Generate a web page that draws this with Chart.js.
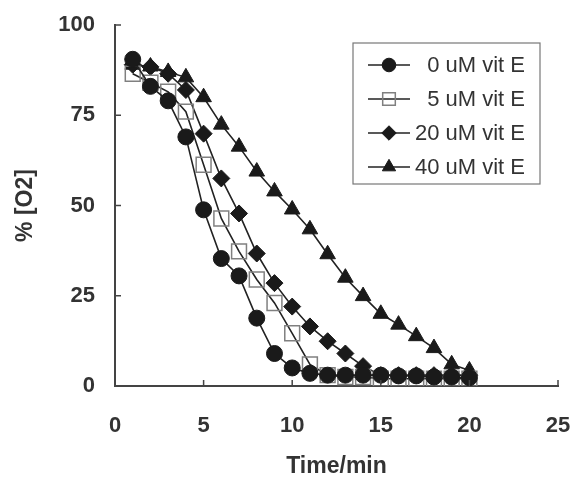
<!DOCTYPE html>
<html>
<head>
<meta charset="utf-8">
<script src="https://cdn.jsdelivr.net/npm/chart.js@4/dist/chart.umd.min.js"></script>
<style>
  html, body { margin: 0; padding: 0; background: #fff; }
  #wrap { width: 574px; height: 482px; position: relative; }
</style>
</head>
<body>
<div id="wrap"><canvas id="c" width="574" height="482"></canvas></div>
<script>
// ---- Data ----
const timeMin = [1,2,3,4,5,6,7,8,9,10,11,12,13,14,15,16,17,18,19,20];
const seriesLabels = ['0 uM vit E', '5 uM vit E', '20 uM vit E', '40 uM vit E'];
const o2_vitE0  = [90.5, 83, 79, 69, 48.8, 35.3, 30.5, 18.8, 9, 5, 3.5, 3, 3, 3, 3, 2.8, 2.8, 2.5, 2.5, 2.3];
const o2_vitE5  = [86.5, 84, 81.5, 76, 61.3, 46.4, 37.3, 29.5, 23, 14.6, 6, 3, 2.5, 2.5, 2, 2, 2, 2, 2, 2];
const o2_vitE20 = [89, 88.4, 86.5, 82, 69.9, 57.5, 47.8, 36.7, 28.5, 22, 16.5, 12.4, 9, 5.5, 3, 3, 3, 3, 3, 3];
const o2_vitE40 = [89, 88.5, 87, 85.5, 80, 72.4, 66.3, 59.4, 53.9, 48.9, 43.4, 36.5, 30, 24.9, 20, 17, 13.8, 10.5, 6, 4.3];
const xTicks = [0, 5, 10, 15, 20, 25];
const yTicks = [0, 25, 50, 75, 100];

const TEXT = '#333333';
const AXIS = '#444444';
const FONT = "'Liberation Sans', Arial, sans-serif";

function toXY(vals) { return vals.map((v, i) => ({ x: timeMin[i], y: v })); }

const styles = [
  { pointStyle: 'circle',   radius: 8,   bg: '#1a1a1a', border: '#1a1a1a', bw: 1 },
  { pointStyle: 'rect',     radius: 10.5, bg: 'rgba(0,0,0,0)', border: '#808080', bw: 1.5 },
  { pointStyle: 'rectRot',  radius: 8.5, bg: '#1a1a1a', border: '#1a1a1a', bw: 1 },
  { pointStyle: 'triangle', radius: 9,   bg: '#1a1a1a', border: '#1a1a1a', bw: 1 }
];
const allSeries = [o2_vitE0, o2_vitE5, o2_vitE20, o2_vitE40];

const datasets = allSeries.map((vals, i) => ({
  label: seriesLabels[i],
  data: toXY(vals),
  borderColor: '#222222',
  borderWidth: 1.6,
  pointStyle: styles[i].pointStyle,
  pointRadius: styles[i].radius,
  pointHoverRadius: styles[i].radius,
  pointBackgroundColor: styles[i].bg,
  pointBorderColor: styles[i].border,
  pointBorderWidth: styles[i].bw,
  tension: 0,
  fill: false
}));

// Inside tick marks drawn from the scales' own ticks
const innerTicks = {
  id: 'innerTicks',
  afterDraw(chart) {
    const { ctx, chartArea, scales } = chart;
    ctx.save();
    ctx.strokeStyle = AXIS;
    ctx.lineWidth = 1.5;
    scales.y.ticks.forEach(t => {
      const py = scales.y.getPixelForValue(t.value);
      ctx.beginPath();
      ctx.moveTo(chartArea.left, py);
      ctx.lineTo(chartArea.left + 6, py);
      ctx.stroke();
    });
    scales.x.ticks.forEach(t => {
      const px = scales.x.getPixelForValue(t.value);
      ctx.beginPath();
      ctx.moveTo(px, chartArea.bottom);
      ctx.lineTo(px, chartArea.bottom - 6);
      ctx.stroke();
    });
    ctx.restore();
  }
};

// Boxed legend inside the plot area (top right)
const boxLegend = {
  id: 'boxLegend',
  afterDraw(chart) {
    const { ctx, chartArea } = chart;
    const w = 187, h = 141;
    const left = chartArea.right - 18 - w;
    const top = chartArea.top + 18;
    ctx.save();
    ctx.fillStyle = '#ffffff';
    ctx.fillRect(left, top, w, h);
    ctx.strokeStyle = '#777777';
    ctx.lineWidth = 1.2;
    ctx.strokeRect(left, top, w, h);
    ctx.font = '22px ' + FONT;
    ctx.textAlign = 'right';
    ctx.textBaseline = 'middle';
    chart.data.datasets.forEach((ds, i) => {
      const cy = top + 22 + i * 34;
      ctx.strokeStyle = '#222222';
      ctx.lineWidth = 1.6;
      ctx.beginPath();
      ctx.moveTo(left + 15, cy);
      ctx.lineTo(left + 57, cy);
      ctx.stroke();
      ctx.fillStyle = ds.pointBackgroundColor;
      ctx.strokeStyle = ds.pointBorderColor;
      ctx.lineWidth = ds.pointBorderWidth;
      Chart.helpers.drawPoint(ctx, { pointStyle: ds.pointStyle, radius: ds.pointRadius * 0.85, rotation: 0, borderWidth: ds.pointBorderWidth }, left + 36, cy);
      ctx.fillStyle = TEXT;
      ctx.fillText(ds.label, left + w - 15, cy + 1);
    });
    ctx.restore();
  }
};

new Chart(document.getElementById('c'), {
  type: 'line',
  data: { datasets },
  options: {
    responsive: false,
    animation: false,
    events: [],
    layout: { padding: { top: 25, right: 16, left: 0, bottom: 0 } },
    plugins: { legend: { display: false }, tooltip: { enabled: false } },
    scales: {
      x: {
        type: 'linear',
        min: 0, max: 25,
        afterBuildTicks: s => { s.ticks = xTicks.map(v => ({ value: v })); },
        ticks: { color: TEXT, font: { family: FONT, size: 22, weight: 'bold' }, padding: 0, maxRotation: 0 },
        grid: { display: false, drawTicks: true, tickLength: 27 },
        border: { display: true, color: AXIS, width: 2 },
        title: { display: true, text: 'Time/min', color: TEXT, font: { family: FONT, size: 23, weight: 'bold' }, padding: { top: 0, bottom: 2 } },
        afterFit: s => { s.height = 96; }
      },
      y: {
        type: 'linear',
        min: 0, max: 100,
        afterBuildTicks: s => { s.ticks = yTicks.map(v => ({ value: v })); },
        ticks: { color: TEXT, font: { family: FONT, size: 22, weight: 'bold' }, padding: 0 },
        grid: { display: false, drawTicks: true, tickLength: 20 },
        border: { display: true, color: AXIS, width: 2 },
        title: { display: true, text: '% [O2]', color: TEXT, font: { family: FONT, size: 23, weight: 'bold' }, padding: { top: 12, bottom: 0 } },
        afterFit: s => { s.width = 115; }
      }
    }
  },
  plugins: [innerTicks, boxLegend]
});
</script>
</body>
</html>
